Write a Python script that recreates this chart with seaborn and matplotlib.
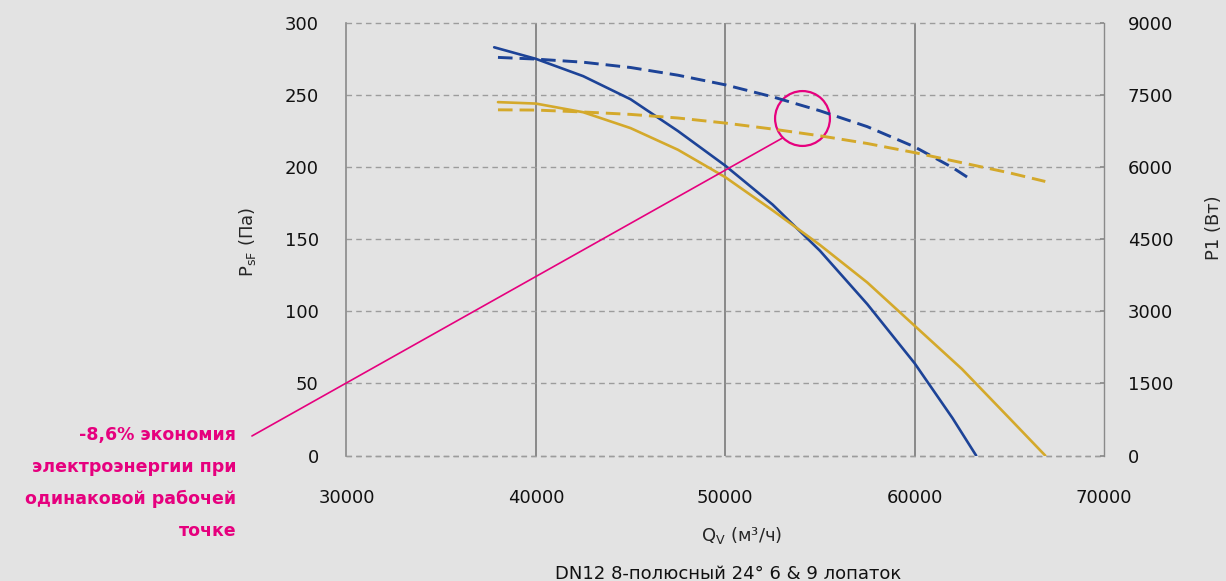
import matplotlib

matplotlib.use("Agg")
import matplotlib.pyplot as plt
import pandas as pd
import seaborn as sns

BLUE = "#1d4397"
GOLD = "#d4a92b"
MAGENTA = "#e6007e"
BG = "#e3e3e3"
GRID = "#9c9c9c"

# pressure curves (left axis, Pa)
Q_P_BLUE = [37800, 40000, 42500, 45000, 47500, 50000, 52500, 55000, 57500, 60000, 62000, 63250]
P_BLUE = [283, 275, 263, 247, 225, 201, 174, 142, 105, 64, 26, 0]
Q_P_GOLD = [38000, 40000, 42500, 45000, 47500, 50000, 52500, 55000, 57500, 60000, 62500, 65000, 66900]
P_GOLD = [245, 244, 238, 227, 212, 193, 170, 146, 120, 90, 60, 26, 0]

# power curves (right axis, W)
Q_W_BLUE = [38000, 40000, 42500, 45000, 47500, 50000, 52500, 55000, 57500, 60000, 62000, 62900]
W_BLUE = [8280, 8245, 8180, 8070, 7910, 7710, 7460, 7170, 6840, 6420, 5990, 5760]
Q_W_GOLD = [38000, 40000, 42500, 45000, 47500, 50000, 52500, 55000, 57500, 60000, 62500, 65000, 66900]
W_GOLD = [7190, 7185, 7145, 7095, 7020, 6915, 6790, 6650, 6490, 6300, 6090, 5880, 5700]

X_TICKS = [30000, 40000, 50000, 60000, 70000]
Y_TICKS = [0, 50, 100, 150, 200, 250, 300]
Y2_TICKS = [0, 1500, 3000, 4500, 6000, 7500, 9000]

# operating point highlight (Q, Pa) and end of the pointer line
MARK_Q, MARK_P = 54076, 233.8
POINTER_Q, POINTER_P = 53046, 220.3

NOTE = "-8,6% экономия\nэлектроэнергии при\nодинаковой рабочей\nточке"

sns.set_theme(style="white", rc={"figure.facecolor": BG, "axes.facecolor": BG})
plt.rcParams["font.family"] = ["DejaVu Sans"]
plt.rcParams["text.color"] = "#111111"

fig = plt.figure(figsize=(12.26, 5.81), dpi=100)
ax = fig.add_axes([0.2826, 0.2158, 0.6179, 0.745])
ax2 = ax.twinx()

pressure = pd.concat([
    pd.DataFrame({"Q": Q_P_BLUE, "P": P_BLUE, "curve": "9"}),
    pd.DataFrame({"Q": Q_P_GOLD, "P": P_GOLD, "curve": "6"}),
])
power = pd.concat([
    pd.DataFrame({"Q": Q_W_BLUE, "W": W_BLUE, "curve": "9"}),
    pd.DataFrame({"Q": Q_W_GOLD, "W": W_GOLD, "curve": "6"}),
])
palette = {"9": BLUE, "6": GOLD}

sns.lineplot(data=pressure, x="Q", y="P", hue="curve", palette=palette,
             linewidth=1.9, legend=False, sort=False, ax=ax)
sns.lineplot(data=power, x="Q", y="W", hue="curve", palette=palette,
             linewidth=2.1, linestyle=(0, (5, 2.4)), legend=False, sort=False, ax=ax2)

ax.set_xlim(30000, 70000)
ax.set_ylim(0, 300)
ax2.set_ylim(0, 9000)
ax.set_xticks(X_TICKS)
ax.set_yticks(Y_TICKS)
ax2.set_yticks(Y2_TICKS)

ax.grid(axis="y", color=GRID, linewidth=1.0, linestyle=(0, (4, 3)))
ax.grid(axis="x", color="#7a7a7a", linewidth=1.2, linestyle="-")
ax.set_axisbelow(True)
xgrid = ax.get_xgridlines()
xgrid[0].set_visible(False)
xgrid[-1].set_visible(False)
for line in ax.get_ygridlines():
    line.set_clip_on(False)
ax.axhline(0, color=GRID, linewidth=1.0, linestyle=(0, (4, 3)), clip_on=False, zorder=0.5)

for side in ["top", "bottom", "right"]:
    ax.spines[side].set_visible(False)
for side in ["top", "bottom", "left"]:
    ax2.spines[side].set_visible(False)
ax.spines["left"].set_color("#8a8a8a")
ax.spines["left"].set_linewidth(1.2)
ax2.spines["right"].set_color("#8a8a8a")
ax2.spines["right"].set_linewidth(1.0)

ax.tick_params(axis="x", length=0, pad=24, labelsize=13, labelcolor="#111111")
ax.tick_params(axis="y", length=0, pad=20, labelsize=13, labelcolor="#111111")
ax2.tick_params(axis="y", direction="in", length=3, color="#8a8a8a", pad=17,
                labelsize=13, labelcolor="#111111")

ax.set_xlabel(r"Q$_\mathregular{V}$ (м³/ч)", fontsize=13)
ax.xaxis.set_label_coords(0.521, -0.16)
ax.set_ylabel(r"P$_\mathregular{sF}$ (Па)", fontsize=13)
ax.yaxis.set_label_coords(-0.117, 0.493)
ax2.set_ylabel("P1 (Вт)", fontsize=13)
ax2.yaxis.set_label_coords(1.133, 0.526)

# highlight circle and pointer
ax.plot([MARK_Q], [MARK_P], marker="o", markersize=39.5, markerfacecolor="none",
        markeredgecolor=MAGENTA, markeredgewidth=1.6, zorder=5, clip_on=False)
ax.annotate("", xy=(POINTER_Q, POINTER_P), xycoords="data",
            xytext=(0.2055, 0.2496), textcoords="figure fraction",
            arrowprops=dict(arrowstyle="-", color=MAGENTA, lw=1.2, shrinkA=0, shrinkB=0),
            annotation_clip=False)

fig.text(0.1925, 0.266, NOTE, ha="right", va="top", multialignment="right",
         color=MAGENTA, fontsize=12.5, fontweight="bold", linespacing=1.97)
fig.text(0.594, 0.004, "DN12 8-полюсный 24° 6 & 9 лопаток", ha="center",
         va="baseline", fontsize=13)

fig.savefig("out.png", dpi=100, facecolor=BG)
